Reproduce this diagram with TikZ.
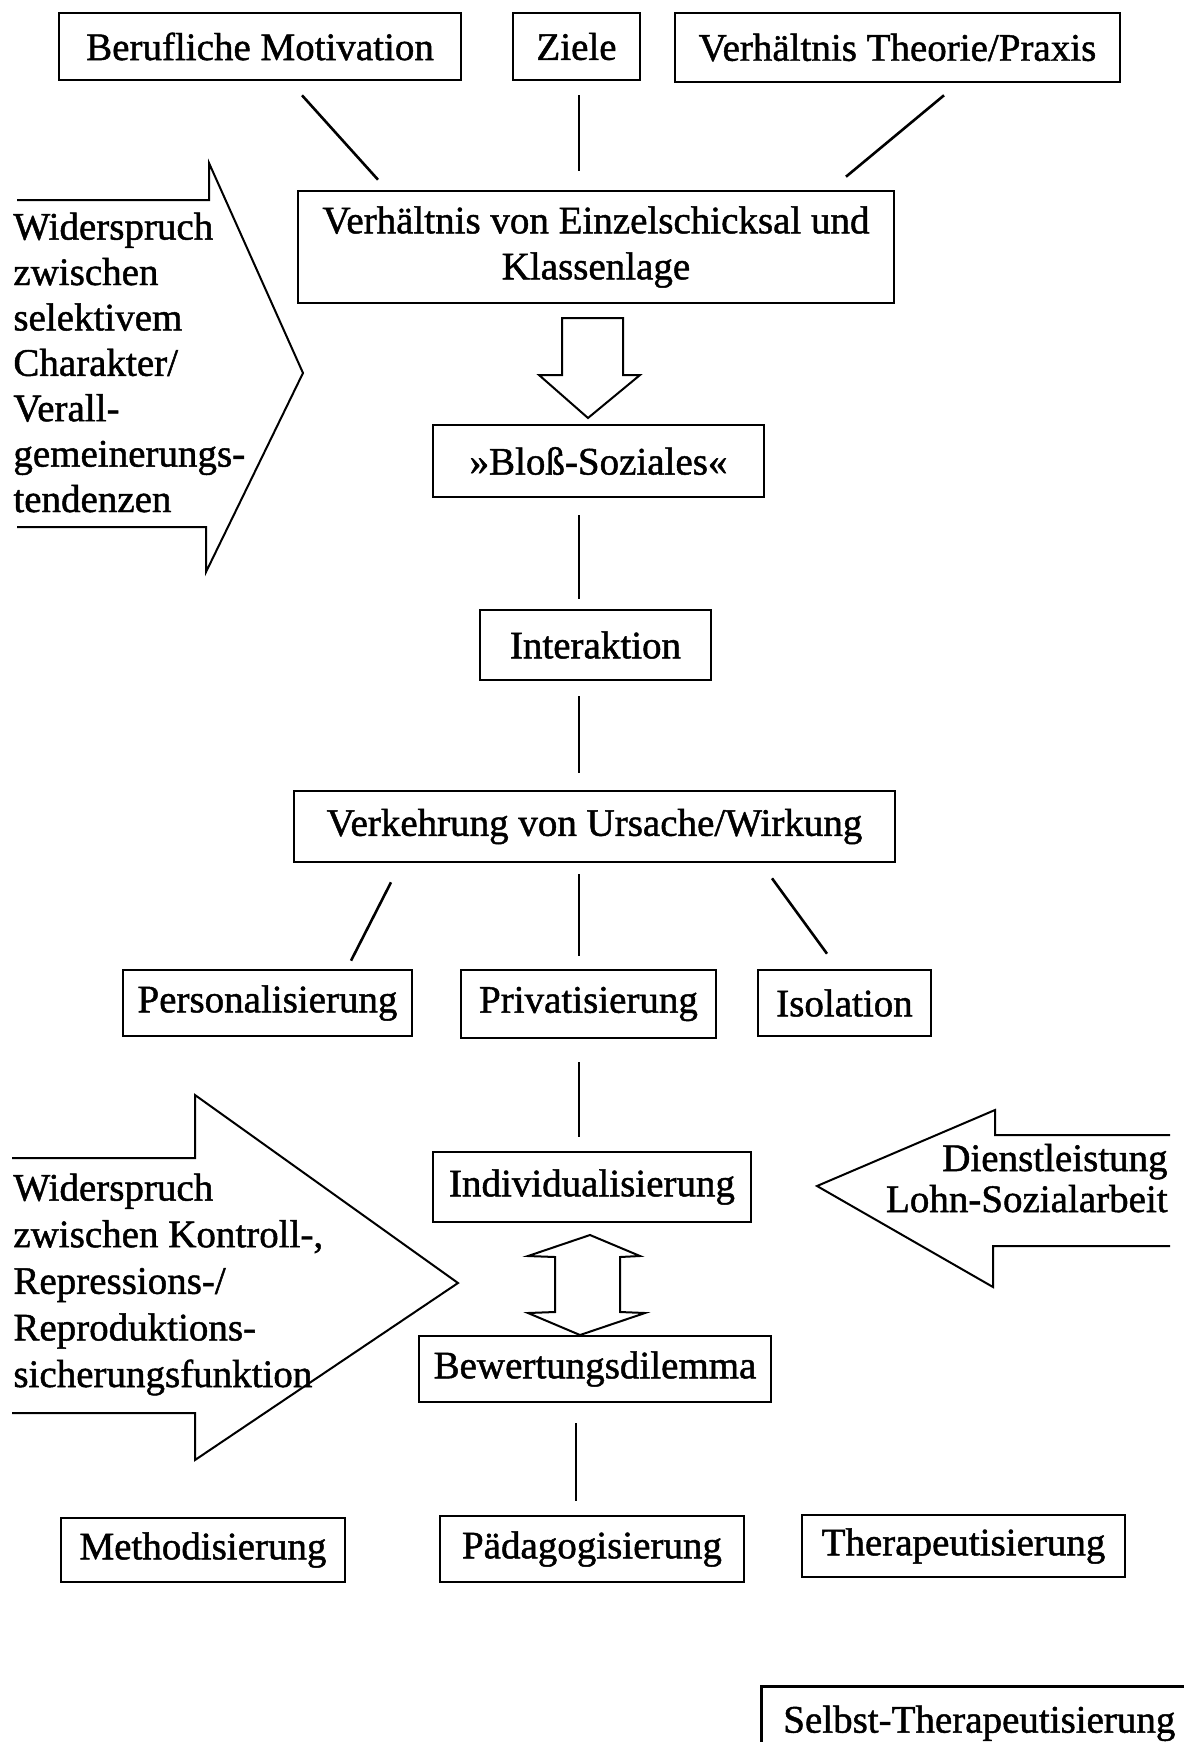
\documentclass[tikz,border=0pt]{standalone}
\usepackage{fontspec}
\setmainfont{Liberation Serif}[BoldFont={Liberation Serif}, BoldFeatures={FakeBold=1.2}]
\begin{document}
\begin{tikzpicture}[x=0.5pt,y=-0.5pt,
  box/.style={draw, line width=1.3pt, inner sep=0pt, font=\fontsize{19.5}{23}\selectfont\bfseries, align=center},
  conn/.style={line width=1.3pt},
  bigarrow/.style={draw, line width=1pt, line join=miter},
  lbl/.style={inner sep=0pt, font=\fontsize{19.5}{22.7}\selectfont\bfseries, align=left}]
\useasboundingbox (0,0) rectangle (1184,1742);
\fill[white] (0,0) rectangle (1184,1742);
\clip (0,0) rectangle (1184,1742);

% boxes
\node[box, minimum width=201pt, minimum height=33.5pt] (beruf) at (260,46.5) {Berufliche Motivation};
\node[box, minimum width=63.5pt, minimum height=33.5pt] (ziele) at (576.5,46.5) {Ziele};
\node[box, minimum width=222.5pt, minimum height=34.5pt] (theorie) at (897.5,47.5) {Verhältnis Theorie/Praxis};
\node[box, minimum width=298pt, minimum height=56pt] (einzel) at (596,247) {Verhältnis von Einzelschicksal und\\Klassenlage};
\node[box, minimum width=165.5pt, minimum height=36pt] (bloss) at (598.5,461) {»Bloß-Soziales«};
\node[box, minimum width=115.5pt, minimum height=35pt] (inter) at (595.5,645) {Interaktion};
\node[box, minimum width=300.5pt, minimum height=35.5pt] (verk) at (594.5,826.5) {Verkehrung von Ursache/Wirkung};
\node[box, minimum width=144.5pt, minimum height=33pt] (pers) at (267.5,1003) {Personalisierung};
\node[box, minimum width=127.5pt, minimum height=34pt] (priv) at (588.5,1004) {Privatisierung};
\node[box, minimum width=86.5pt, minimum height=33pt] (iso) at (844.5,1003) {Isolation};
\node[box, minimum width=159pt, minimum height=35pt] (indiv) at (592,1187) {Individualisierung};
\node[box, minimum width=176pt, minimum height=33pt] (bew) at (595,1369) {Bewertungsdilemma};
\node[box, minimum width=142pt, minimum height=32pt] (meth) at (203,1550) {Methodisierung};
\node[box, minimum width=152pt, minimum height=33pt] (paed) at (592,1549) {Pädagogisierung};
\node[box, minimum width=161.5pt, minimum height=31pt] (thera) at (963.5,1546) {Therapeutisierung};
\node[box, anchor=north west, minimum height=37pt, text width=230pt, inner xsep=11pt, align=left] (selbst) at (760,1685) {Selbst-Therapeutisierung};

% connectors
\draw[conn] ([shift={(42,14)}]beruf.south) -- ([shift={(-218,-10)}]einzel.north);
\draw[conn] ([shift={(2.5,14)}]ziele.south) -- ([shift={(-17,-19)}]einzel.north);
\draw[conn] ([shift={(46.5,12)}]theorie.south) -- ([shift={(250,-13)}]einzel.north);
\draw[conn] ([shift={(-19.5,17)}]bloss.south) -- ([shift={(-16.5,-10)}]inter.north);
\draw[conn] ([shift={(-16.5,15)}]inter.south) -- ([shift={(-15.5,-17)}]verk.north);
\draw[conn] ([shift={(-203.5,19)}]verk.south) -- ([shift={(83.5,-8)}]pers.north);
\draw[conn] ([shift={(-15.5,11)}]verk.south) -- ([shift={(-9.5,-13)}]priv.north);
\draw[conn] ([shift={(177.5,15)}]verk.south) -- ([shift={(-17.5,-15)}]iso.north);
\draw[conn] ([shift={(-9.5,23)}]priv.south) -- ([shift={(-13,-14)}]indiv.north);
\draw[conn] ([shift={(-19,20)}]bew.south) -- ([shift={(-16,-14)}]paed.north);

% hollow arrows
\draw[bigarrow] (562,318) -- (562,375) -- (539,375) -- (588,418) -- (640,375) -- (623,375) -- (623,318) -- cycle;
\draw[bigarrow] (590,1235) -- (640,1256) -- (620,1257) -- (620,1312) -- (645,1313) -- (580,1335) -- (528,1313) -- (555,1312) -- (555,1257) -- (528,1256) -- cycle;

% side arrows
\draw[bigarrow] (17,200) -- (209,200) -- (209,163) -- (303,373) -- (206,572) -- (206,527) -- (17,527);
\node[lbl, anchor=base west] (wid1) at (13,512) {Widerspruch\\zwischen\\selektivem\\Charakter/\\Verall-\\gemeinerungs-\\tendenzen};

\draw[bigarrow] (12,1158) -- (195,1158) -- (195,1095) -- (458,1283) -- (195,1460) -- (195,1413) -- (12,1413);
\node[lbl, font=\fontsize{19.5}{23.3}\selectfont\bfseries, anchor=base west] (wid2) at (13,1387) {Widerspruch\\zwischen Kontroll-,\\Repressions-/\\Reproduktions-\\sicherungsfunktion};

\draw[bigarrow] (1170,1135) -- (995,1135) -- (995,1110) -- (817,1186) -- (993,1287) -- (993,1246) -- (1170,1246);
\node[lbl, font=\fontsize{19.5}{20.5}\selectfont\bfseries, align=right, anchor=base east] (dienst) at (1168,1212) {Dienstleistung\\Lohn-Sozialarbeit};
\end{tikzpicture}
\end{document}
